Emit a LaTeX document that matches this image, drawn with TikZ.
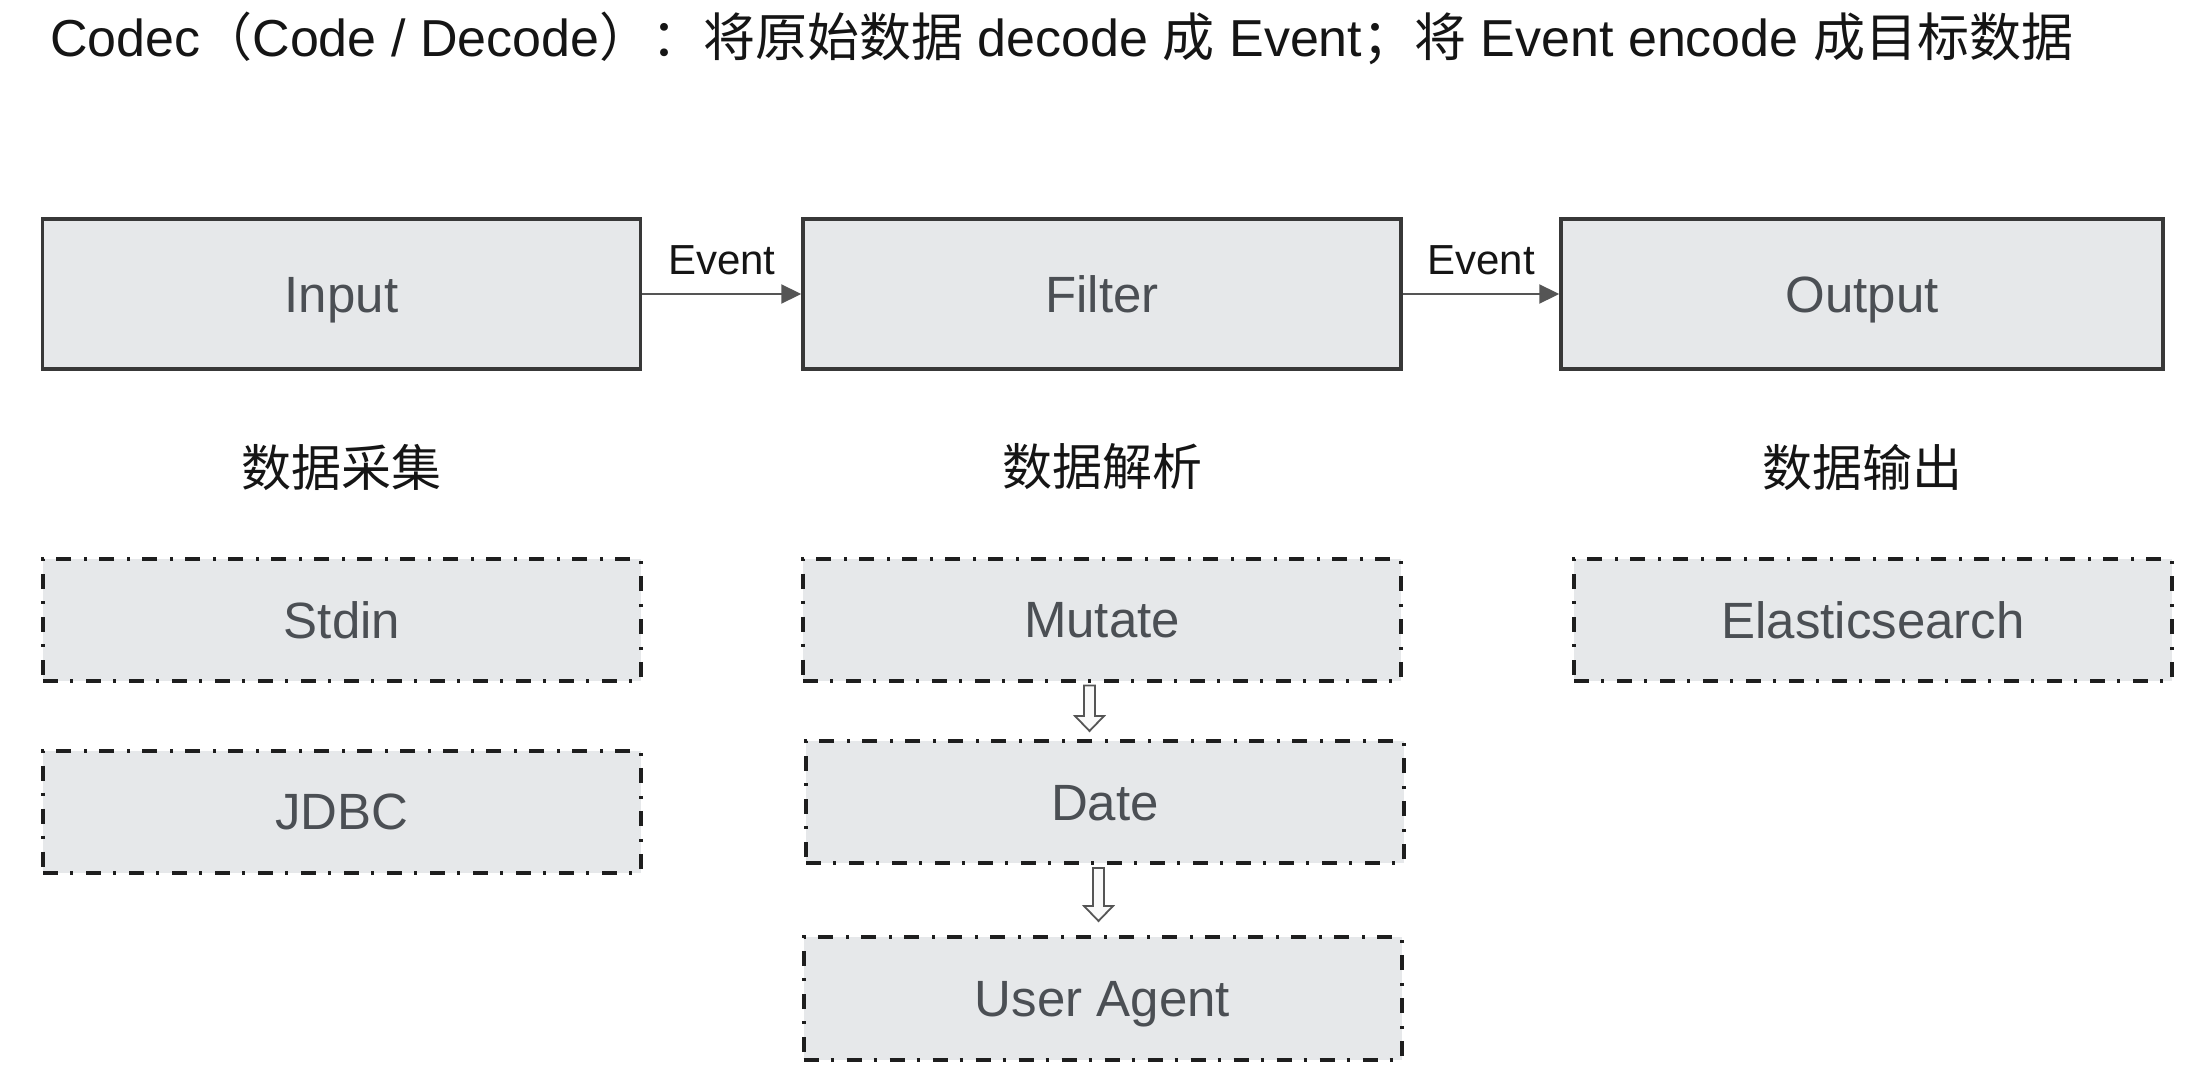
\documentclass[tikz,border=0pt]{standalone}
\usepackage{fontspec}
\setmainfont{Liberation Sans}
\newfontfamily\cjk{Noto Sans CJK SC}
\usetikzlibrary{arrows.meta,calc}
\definecolor{boxfill}{HTML}{E6E8EA}
\definecolor{boxline}{HTML}{383838}
\definecolor{dashline}{HTML}{1E1E1E}
\definecolor{labelc}{HTML}{4B4F54}
\definecolor{inkc}{HTML}{151515}
\definecolor{arrowc}{HTML}{555555}
\begin{document}
\begin{tikzpicture}[x=1pt,y=-1pt,
  solidbox/.style={draw=boxline, line width=3.5pt, fill=boxfill, minimum width=598pt,
    minimum height=150pt, inner sep=0pt, text=labelc, font=\fontsize{51}{60}\selectfont,
    text height=36pt, text depth=0pt},
  dashbox/.style={draw=dashline, line width=4pt, fill=boxfill, minimum width=598pt,
    minimum height=122pt, inner sep=0pt, text=labelc, font=\fontsize{51}{60}\selectfont,
    text height=36pt, text depth=0pt,
    dash pattern=on 15pt off 12pt on 3pt off 13pt},
  section/.style={text=inkc, inner sep=0pt, font=\cjk\fontsize{50}{60}\selectfont},
  evarrow/.style={draw=arrowc, line width=2.2pt, -{Triangle[length=20pt,width=19pt]}},
  evlabel/.style={text=inkc, inner sep=0pt, font=\fontsize{42}{50}\selectfont, anchor=base, yshift=20pt},
  hollow/.style={draw=arrowc, line width=1.8pt, fill=white!95!gray, line join=miter}
]
\useasboundingbox[fill=white] (0,0) rectangle (2190,1073);

% title
\node[anchor=base west, inner sep=0pt, text=inkc, font=\fontsize{52}{60}\selectfont] (title) at (50,57)
  {Codec{\cjk （}Code / Decode{\cjk ）：}{\cjk 将原始数据} decode {\cjk 成} Event{\cjk ；将} Event encode {\cjk 成目标数据}};

% main stages
\node[solidbox] (input)  at (341.5,294) {Input};
\node[solidbox] (filter) at (1102,294) {Filter};
\node[solidbox, minimum width=602pt] (output) at (1862,294) {Output};

\draw[evarrow] (input.east) -- (filter.west) node[midway, evlabel] (ev1) {Event};
\draw[evarrow] (filter.east) -- (output.west) node[midway, evlabel] (ev2) {Event};

% section captions
\node[section] (s1) at (341.5,467) {数据采集};
\node[section] (s2) at (1102,467) {数据解析};
\node[section] (s3) at (1862,467) {数据输出};

% plugins
\node[dashbox] (stdin)   at (342,620) {Stdin};
\node[dashbox] (jdbc)    at (342,811.5) {JDBC};
\node[dashbox] (mutate)  at (1102,619.5) {Mutate};
\node[dashbox] (date)    at (1105,802) {Date};
\node[dashbox, minimum height=123pt] (ua) at (1102.5,998.5) {User Agent};
\node[dashbox] (elastic) at (1873,620) {Elasticsearch};

% hollow arrows
\coordinate (a1s) at ($(mutate.south)+(-12.5,3)$);
\coordinate (a1e) at ($(date.north)+(-15.5,-8)$);
\coordinate (a2s) at ($(date.south)+(-6.5,3)$);
\coordinate (a2e) at ($(ua.north)+(-4,-14)$);
\foreach \s/\e in {a1s/a1e,a2s/a2e}{
  \draw[hollow] let \p1=(\s), \p2=(\e) in
    (\x1-5.5pt,\y1) -- (\x1-5.5pt,\y2+15pt) -- (\x1-14.5pt,\y2+15pt) -- (\x1,\y2)
    -- (\x1+14.5pt,\y2+15pt) -- (\x1+5.5pt,\y2+15pt) -- (\x1+5.5pt,\y1) -- cycle;
}
\end{tikzpicture}
\end{document}
